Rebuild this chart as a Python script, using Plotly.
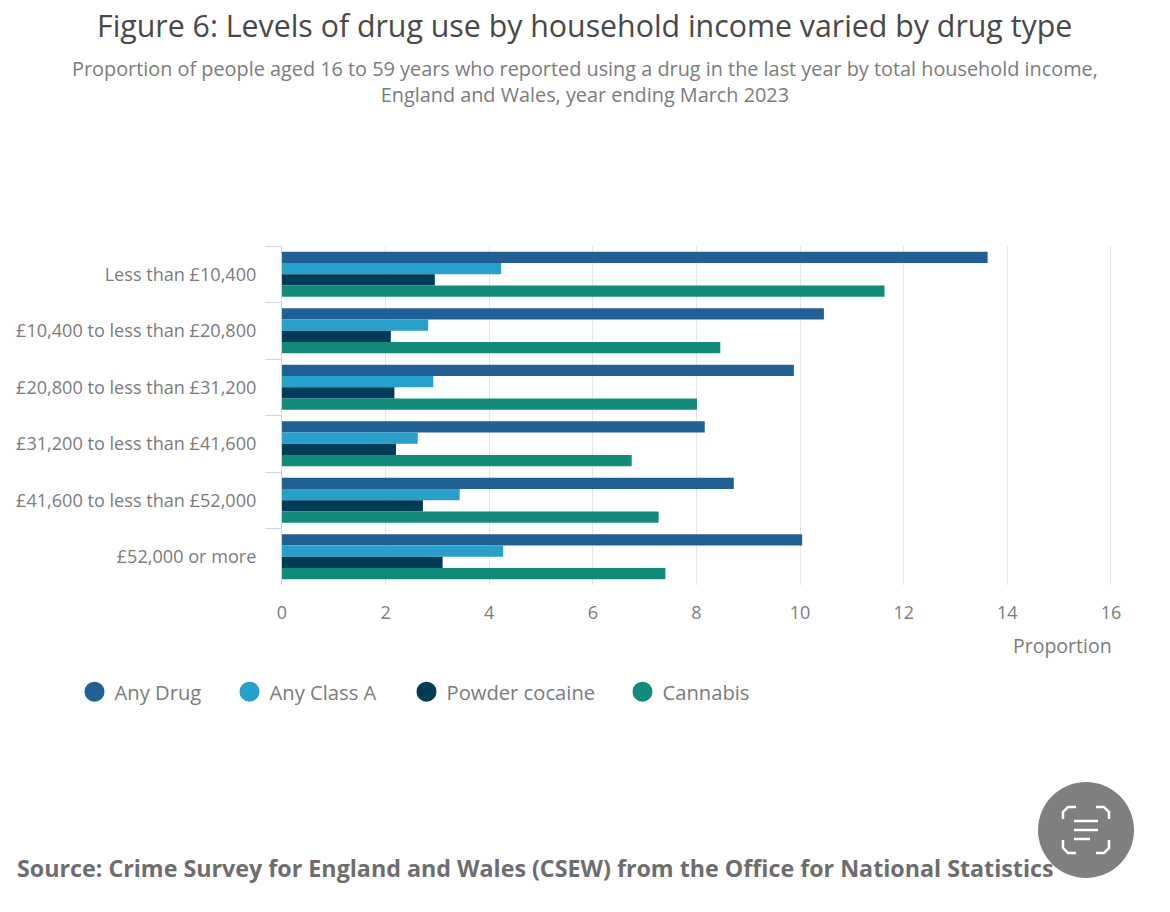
import plotly.graph_objects as go

W = 1170
H = 912
LEFT, RIGHT, TOP, BOTTOM = 282, 1113, 246, 585

categories = ['Less than £10,400', '£10,400 to less than £20,800', '£20,800 to less than £31,200',
              '£31,200 to less than £41,600', '£41,600 to less than £52,000', '£52,000 or more']
any_drug = [13.62, 10.46, 9.88, 8.16, 8.72, 10.04]
any_class_a = [4.23, 2.82, 2.92, 2.62, 3.43, 4.27]
powder_cocaine = [2.95, 2.10, 2.17, 2.20, 2.72, 3.10]
cannabis = [11.63, 8.46, 8.01, 6.75, 7.27, 7.40]
x_ticks = [0, 2, 4, 6, 8, 10, 12, 14, 16]

series = [('Any Drug', any_drug, '#206095'), ('Any Class A', any_class_a, '#27a0cc'),
          ('Powder cocaine', powder_cocaine, '#003c57'), ('Cannabis', cannabis, '#118c7b')]
legend_left = [74.5, 229.5, 406.5, 622.5]
legend_ids = ['legend', 'legend2', 'legend3', 'legend4']
LABEL_GREY = '#7b7b7c'


# pixel position on the page to paper coordinates
def px(x):
    return (x - LEFT) / (RIGHT - LEFT)


def py(y):
    return (BOTTOM - y) / (BOTTOM - TOP)


fig = go.Figure()

for name, values, color in series:
    fig.add_trace(go.Bar(y=categories, x=values, name=name, orientation='h', marker=dict(color=color, line=dict(width=0)), showlegend=False))

# round legend keys, bars would only give squares
# one legend per entry, the gaps between entries are wider than plotly's
for (name, values, color), lid in zip(series, legend_ids):
    fig.add_trace(go.Scatter(x=[None], y=[None], mode='markers', name=name, legend=lid, marker=dict(color=color, size=16, line=dict(color=color, width=4))))

fig.update_layout(
    width=W,
    height=H,
    margin=dict(l=LEFT, r=W - RIGHT, t=TOP, b=H - BOTTOM, pad=0),
    paper_bgcolor='white',
    plot_bgcolor='white',
    barmode='group',
    bargap=0.2,
    bargroupgap=0,
    font=dict(family='Open Sans', color=LABEL_GREY, size=18),
)
for lid, left in zip(legend_ids, legend_left):
    fig.update_layout({lid: dict(x=px(left), y=py(672), xanchor='left', yanchor='top', font=dict(size=20.2, color=LABEL_GREY), itemsizing='trace')})

# range runs a hair past 16 or plotly drops the last gridline
fig.update_xaxes(range=[0, 16.04], tickvals=x_ticks, showgrid=True, gridcolor='#e6e6e6', gridwidth=1, zeroline=False, showline=False, ticks='', ticklabelstandoff=15, tickfont=dict(size=18, color=LABEL_GREY))
fig.update_yaxes(autorange='reversed', type='category', showgrid=False, zeroline=False, showline=True, linecolor='#ccd6eb', linewidth=1, ticks='outside', tickson='boundaries', ticklen=16, tickcolor='#ccd6eb', ticklabelstandoff=21, tickfont=dict(size=18.1, color=LABEL_GREY))

subtitle = ('Proportion of people aged 16 to 59 years who reported using a drug in the last year by total household income,'
            '<br>England and Wales, year ending March 2023')
annotations = [
    ('Figure 6: Levels of drug use by household income varied by drug type', 584, 26, 30.3, '#48484a', 'center', False),
    (subtitle, 585, 81.5, 19.85, LABEL_GREY, 'center', False),
    ('Proportion', 1114, 645, 19.5, LABEL_GREY, 'right', False),
    ('Source: Crime Survey for England and Wales (CSEW) from the Office for National Statistics', 15, 868, 23.25, '#6d6d6e', 'left', True),
]
for text, x, y, size, color, align, bold in annotations:
    fig.add_annotation(text=f'<b>{text}</b>' if bold else text, x=px(x), y=py(y), xref='paper', yref='paper', xanchor=align, yanchor='middle', showarrow=False, font=dict(size=size, color=color))

# scan button sitting over the screenshot
fig.add_shape(type='circle', xref='paper', yref='paper', x0=px(1038), x1=px(1134), y0=py(878), y1=py(782), fillcolor='#7f7f7f', line=dict(width=0))
icon_paths = [
    [(1063, 819), (1063, 812), (1068, 807), (1076, 807)],
    [(1096, 807), (1104, 807), (1109, 812), (1109, 819)],
    [(1063, 840), (1063, 848), (1068, 853), (1076, 853)],
    [(1096, 853), (1104, 853), (1109, 848), (1109, 840)],
    [(1074, 821), (1098, 821)],
    [(1074, 830), (1098, 830)],
    [(1074, 839), (1090, 839)],
]
for pts in icon_paths:
    d = 'M ' + ' L '.join(f'{px(a):.5f},{py(b):.5f}' for a, b in pts)
    fig.add_shape(type='path', xref='paper', yref='paper', path=d, line=dict(color='white', width=2.5))

fig.write_html('out.html', config={'displayModeBar': False}, post_script="document.body.style.margin='0';")
